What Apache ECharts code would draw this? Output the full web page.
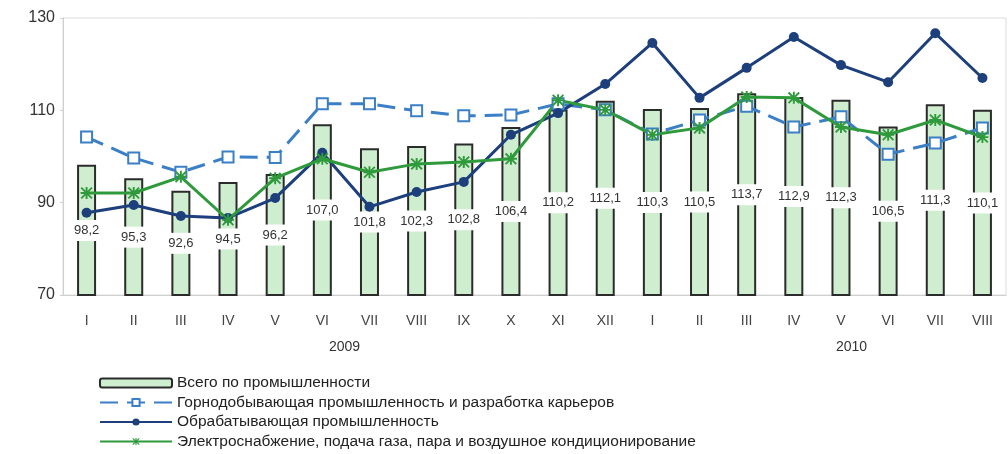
<!DOCTYPE html>
<html><head><meta charset="utf-8">
<script src="https://cdn.jsdelivr.net/npm/echarts@6/dist/echarts.min.js"></script>
<style>html,body{margin:0;padding:0;background:#fff}#c{width:1008px;height:454px}</style>
</head><body><div id="c"></div>
<script>
const months = ['I','II','III','IV','V','VI','VII','VIII','IX','X','XI','XII','I','II','III','IV','V','VI','VII','VIII'];
const years = ['2009','2010'];
const seriesNames = [
  'Всего по промышленности',
  'Горнодобывающая промышленность и разработка карьеров',
  'Обрабатывающая промышленность',
  'Электроснабжение, подача газа, пара и воздушное кондиционирование'
];
const total = [98.2,95.3,92.6,94.5,96.2,107.0,101.8,102.3,102.8,106.4,110.2,112.1,110.3,110.5,113.7,112.9,112.3,106.5,111.3,110.1];
const mining = [104.2,99.7,96.6,99.9,99.8,111.4,111.4,109.9,108.8,109.0,111.4,110.1,104.9,107.9,110.9,106.4,108.6,100.5,102.9,106.2];
const manufacturing = [87.8,89.5,87.1,86.7,91.0,100.8,89.1,92.3,94.5,104.7,109.4,115.7,124.6,112.7,119.2,125.9,119.8,116.1,126.7,117.0];
const electricity = [92.1,92.1,95.6,86.3,95.3,99.5,96.6,98.4,98.8,99.5,112.2,110.1,104.7,106.2,112.9,112.7,106.4,104.7,107.9,104.2];
const yTicks = {min:70, max:130, interval:20};

const star = 'path://M4.2,0h1.6v10h-1.6z M0,4.2h10v1.6h-10z M1.1,0L10,8.9L8.9,10L0,1.1z M8.9,0L10,1.1L1.1,10L0,8.9z';
const chart = echarts.init(document.getElementById('c'));
const fmt = v => String(v.toFixed(1)).replace('.', ',');
chart.setOption({
  animation:false,
  backgroundColor:'#fff',
  textStyle:{fontFamily:'Liberation Sans, Arial, sans-serif'},
  grid:{left:63, right:2, top:18, bottom:159, show:true, borderColor:'#dcdcdc', borderWidth:1},
  xAxis:{type:'category', data:months, axisTick:{show:false},
    axisLine:{lineStyle:{color:'#cfcfcf'}},
    axisLabel:{color:'#444', fontSize:14, margin:19}},
  yAxis:{type:'value', min:yTicks.min, max:yTicks.max, interval:yTicks.interval,
    splitLine:{show:false}, axisLine:{show:true, lineStyle:{color:'#cfcfcf'}},
    axisTick:{show:true, length:3, lineStyle:{color:'#cfcfcf'}},
    axisLabel:{color:'#333', fontSize:16, margin:8}},
  legend:{orient:'vertical', left:99, top:375, height:80, padding:0, itemWidth:72, itemHeight:9, itemGap:3.5,
    textStyle:{color:'#222', fontSize:15.5, lineHeight:16},
    data:seriesNames},
  graphic:[
    {type:'text', left:346-17, top:340, style:{text:years[0], fill:'#333', font:'14px Liberation Sans, Arial, sans-serif'}},
    {type:'text', left:853-17, top:340, style:{text:years[1], fill:'#333', font:'14px Liberation Sans, Arial, sans-serif'}}
  ],
  series:[
    {name:seriesNames[0], type:'bar', data:total, barWidth:19,
      itemStyle:{color:'#cfedcf', borderColor:'#2b2b2b', borderWidth:2},
      label:{show:true, position:'inside', formatter:p=>fmt(p.value), color:'#333', fontSize:13,
        backgroundColor:'#fff', padding:[4,3]}},
    {name:seriesNames[1], type:'line', data:mining, symbol:'rect', symbolSize:11,
      lineStyle:{color:'#3b7fc6', width:3, type:[18,9]},
      itemStyle:{color:'#fff', borderColor:'#3b7fc6', borderWidth:2}},
    {name:seriesNames[2], type:'line', data:manufacturing, symbol:'circle', symbolSize:10,
      lineStyle:{color:'#1d3f7c', width:3},
      itemStyle:{color:'#1d3f7c'}},
    {name:seriesNames[3], type:'line', data:electricity, symbol:star, symbolSize:12,
      lineStyle:{color:'#2f9a3b', width:3},
      itemStyle:{color:'#2f9a3b'}}
  ]
});
</script></body></html>
